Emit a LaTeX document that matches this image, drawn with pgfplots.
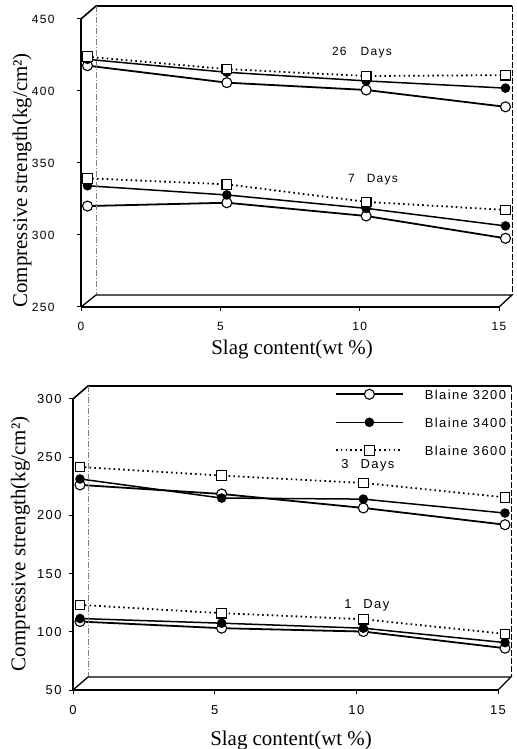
\documentclass[border=0pt]{standalone}
\usepackage{fontspec}
\setmainfont{Liberation Serif}
\newfontfamily\scan[LetterSpace=11]{Liberation Sans}
\usepackage{pgfplots}
\usepackage{pgfplotstable}
\pgfplotsset{compat=1.18}

% 28 days
\pgfplotstableread{
x  b32   b34   b36
0  417.6 422.0 423.8
5  405.8 413.0 415.2
10 400.7 407.0 410.4
15 389.0 402.0 411.0
}\dayA
% 7 days
\pgfplotstableread{
x  b32   b34   b36
0  320.1 334.2 339.4
5  322.4 327.8 335.2
10 313.2 318.5 323.0
15 297.7 306.3 317.4
}\dayB
% 3 days
\pgfplotstableread{
x  b32   b34   b36
0  226.2 231.3 241.6
5  218.4 214.9 234.2
10 206.4 214.0 227.9
15 192.0 202.0 215.5
}\dayC
% 1 day
\pgfplotstableread{
x  b32   b34   b36
0  108.8 111.4 123.1
5  103.1 107.4 116.0
10 100.2 103.1 110.8
15  85.9  90.7  98.2
}\dayD

\tikzset{
  b32/.style={black,line width=1.8bp,mark=*,mark size=5bp,mark options={fill=white,line width=1.1bp,solid}},
  b34/.style={black,line width=1.5bp,mark=*,mark size=4bp,mark options={fill=black,solid}},
  b36/.style={black,line width=1.8bp,dash pattern=on 1.6bp off 3.2bp,mark=square*,mark size=4.8bp,mark options={fill=white,line width=1.1bp,solid}},
  annA/.style={font=\scan\fontsize{12}{12}\selectfont},
  annB/.style={font=\scan\fontsize{13}{13}\selectfont},
  lab/.style={font=\fontsize{21}{24}\selectfont,anchor=center},
}
\pgfplotsset{
  panel/.style={
    scale only axis, clip=false,
    axis lines*=left, axis line style={-,line width=1.3bp},
    xmin=0, xmax=15, xtick={0,5,10,15},
    tick align=outside, major tick length=4bp,
    tick style={black,line width=1bp},
    /pgf/number format/assume math mode=true,
    xlabel={Slag content(wt \%)},
    ylabel={Compressive strength(kg/cm²)},
  },
}

\begin{document}
\begin{tikzpicture}
% upper panel: 7 and 28 days
\begin{axis}[panel,
  at={(81bp,442bp)}, anchor=south west,
  width=418bp, height=288bp,
  ymin=250, ymax=450, ytick={250,300,...,450},
  ticklabel style={font=\scan\fontsize{12}{12}\selectfont},
  yticklabel style={xshift=-19bp},
  xticklabel style={yshift=-8bp},
  every axis y label/.style={lab,at={(axis description cs:-0.141,0.44)},rotate=90},
  every axis x label/.style={lab,at={(axis description cs:0.505,-0.149)}},
]
\addplot[b32,xshift=6.5bp] table[y=b32] {\dayA};
\addplot[b34,xshift=6.5bp] table[y=b34] {\dayA};
\addplot[b36,xshift=6.5bp] table[y=b36] {\dayA};
\addplot[b32,xshift=6.5bp] table[y=b32] {\dayB};
\addplot[b34,xshift=6.5bp] table[y=b34] {\dayB};
\addplot[b36,xshift=6.5bp] table[y=b36] {\dayB};
\node[annA] at (axis cs:10.08,427) {26\hspace{14bp}Days};
\node[annA] at (axis cs:10.48,338.2) {7\hspace{12bp}Days};
\end{axis}
% lower panel: 1 and 3 days
\begin{axis}[panel,
  at={(73bp,59bp)}, anchor=south west,
  width=425bp, height=291bp,
  ymin=50, ymax=300, ytick={50,100,...,300},
  ticklabel style={font=\scan\fontsize{13}{13}\selectfont},
  yticklabel style={xshift=-4bp},
  xticklabel style={yshift=-8bp},
  every axis y label/.style={lab,at={(axis description cs:-0.124,0.502)},rotate=90},
  every axis x label/.style={lab,at={(axis description cs:0.513,-0.172)}},
  legend style={draw=none, fill=none, inner sep=0pt,
    at={(axis description cs:0.616,1.034)}, anchor=north west,
    font=\scan\fontsize{13}{13}\selectfont, row sep=18bp,
    nodes={inner sep=0pt, text height=10bp, text depth=0bp},
    /tikz/every odd column/.append style={column sep=21bp}},
  legend cell align=left,
  legend image code/.code={\draw[mark repeat=2,mark phase=2] plot coordinates {(0bp,0bp) (33.5bp,0bp) (67bp,0bp)};},
]
\addlegendimage{b32}\addlegendentry{Blaine 3200}
\addlegendimage{b34}\addlegendentry{Blaine 3400}
\addlegendimage{b36}\addlegendentry{Blaine 3600}
\addplot[b32,xshift=7bp,forget plot] table[y=b32] {\dayC};
\addplot[b34,xshift=7bp,forget plot] table[y=b34] {\dayC};
\addplot[b36,xshift=7bp,forget plot] table[y=b36] {\dayC};
\addplot[b32,xshift=7bp,forget plot] table[y=b32] {\dayD};
\addplot[b34,xshift=7bp,forget plot] table[y=b34] {\dayD};
\addplot[b36,xshift=7bp,forget plot] table[y=b36] {\dayD};
\node[annB] at (axis cs:10.41,242.8) {3\hspace{12bp}Days};
\node[annB] at (axis cs:10.37,123) {1\hspace{12bp}Day};
\end{axis}
% box drawn in depth, upper panel
\draw[line width=1.6bp] (81bp,730bp) -- (96bp,743bp) -- (512bp,743bp);
\draw[line width=0.8bp,dash pattern=on 6bp off 2bp] (512bp,743bp) -- (512bp,454bp);
\draw[line width=0.5bp,gray,dash pattern=on 6bp off 2bp on 1bp off 2bp] (96bp,743bp) -- (96bp,454bp);
\draw[line width=1.3bp] (81bp,442bp) -- (96bp,454bp) -- (512bp,454bp) -- (499bp,442bp);
% box drawn in depth, lower panel
\draw[line width=1.6bp] (73bp,350bp) -- (88bp,363bp) -- (511bp,363bp);
\draw[line width=0.8bp,dash pattern=on 6bp off 2bp] (511bp,363bp) -- (511bp,72bp);
\draw[line width=0.5bp,gray,dash pattern=on 6bp off 2bp on 1bp off 2bp] (88bp,363bp) -- (88bp,72bp);
\draw[line width=1.3bp] (73bp,59bp) -- (88bp,72bp) -- (511bp,72bp) -- (498bp,59bp);
\pgfresetboundingbox
\path[use as bounding box] (0bp,0bp) rectangle (517bp,749bp);
\end{tikzpicture}
\end{document}
